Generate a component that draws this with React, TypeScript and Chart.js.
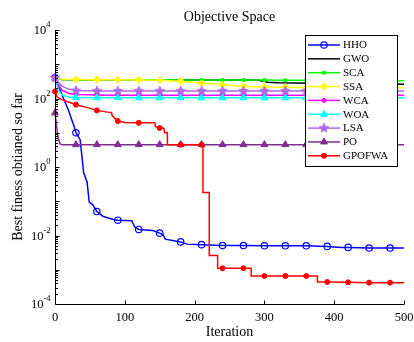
import React, { useEffect, useRef } from 'react';
import { Chart, registerables } from 'chart.js';
import { drawPoint } from 'chart.js/helpers';

Chart.register(...registerables);

const FONT = "'Liberation Serif', 'Times New Roman', serif";

const TITLE = 'Objective Space';
const MARKER_ITERS = [0, 30, 60, 90, 120, 150, 180, 210, 240, 270, 300, 330, 360, 390, 420, 450, 480];
const X_TICKS = [0, 100, 200, 300, 400, 500];
const Y_TICK_EXPONENTS = [-4, -2, 0, 2, 4];

const HHO_X = [0, 7, 19, 24, 28, 30, 36, 39, 41, 46, 49, 54, 60, 69, 85, 90, 110, 114, 120, 140, 150, 155, 158, 180, 189, 210, 240, 270, 300, 330, 360, 390, 410, 420, 450, 480, 500];
const HHO_Y = [400, 180, 47, 24, 14, 10, 6.3, 1.7, 0.69, 0.36, 0.095, 0.08, 0.05, 0.036, 0.029, 0.028, 0.027, 0.018, 0.015, 0.014, 0.0117, 0.0105, 0.0078, 0.0065, 0.0056, 0.0054, 0.0051, 0.0051, 0.005, 0.005, 0.005, 0.0048, 0.0045, 0.0045, 0.0043, 0.0043, 0.0043];

const GWO_X = [0, 10, 30, 100, 200, 290, 305, 320, 400, 500];
const GWO_Y = [390, 360, 355, 352, 348, 345, 300, 290, 275, 262];

const SCA_X = [0, 10, 30, 60, 90, 120, 150, 180, 210, 240, 270, 300, 330, 360, 390, 420, 450, 480, 500];
const SCA_Y = [390, 360, 355, 352, 350, 350, 350, 348, 347, 346, 345, 344, 342, 340, 338, 335, 332, 330, 328];

const SSA_X = [0, 10, 30, 60, 90, 120, 150, 180, 210, 240, 270, 300, 330, 360, 390, 420, 450, 480, 500];
const SSA_Y = [390, 365, 358, 355, 352, 348, 340, 320, 285, 250, 228, 215, 212, 210, 210, 208, 208, 207, 207];

const WCA_X = [0, 5, 10, 20, 30, 60, 90, 120, 150, 180, 210, 240, 270, 300, 330, 360, 390, 420, 450, 480, 500];
const WCA_Y = [400, 250, 175, 140, 130, 126, 125, 125, 125, 125, 125, 125, 125, 125, 125, 125, 125, 125, 125, 125, 125];

const WOA_X = [0, 3, 6, 10, 20, 30, 60, 90, 120, 150, 180, 210, 240, 270, 300, 330, 360, 390, 420, 450, 480, 500];
const WOA_Y = [400, 240, 160, 125, 110, 107, 106, 105, 105, 105, 105, 105, 105, 105, 105, 105, 105, 105, 105, 105, 105, 105];

const LSA_X = [0, 5, 10, 20, 30, 60, 90, 120, 150, 180, 210, 240, 270, 300, 330, 360, 390, 420, 450, 480, 500];
const LSA_Y = [400, 300, 230, 185, 170, 166, 165, 165, 165, 165, 165, 165, 165, 165, 165, 165, 165, 165, 165, 165, 165];

const PO_X = [0, 2, 4, 7, 10, 30, 60, 90, 120, 150, 180, 210, 240, 270, 300, 330, 360, 390, 420, 450, 480, 500];
const PO_Y = [38, 18, 8, 4.8, 4.5, 4.5, 4.5, 4.5, 4.5, 4.5, 4.5, 4.5, 4.5, 4.5, 4.5, 4.5, 4.5, 4.5, 4.5, 4.5, 4.5, 4.5];

const GPOFWA_X = [0, 3, 10, 20, 30, 45, 60, 75, 81, 82, 90, 100, 120, 143, 144, 150, 156, 157, 161, 161, 180, 210, 212, 212, 221, 221, 233, 233, 240, 270, 281, 281, 300, 330, 360, 376, 376, 390, 420, 450, 480, 500];
const GPOFWA_Y = [160, 110, 93, 78, 66, 55, 45, 40, 39, 31, 22, 20, 19.5, 19.5, 15, 13.8, 13.5, 10, 10, 4.5, 4.5, 4.5, 4.5, 0.18, 0.18, 0.0026, 0.0026, 0.0011, 0.0011, 0.0011, 0.0011, 0.00066, 0.00066, 0.00066, 0.00066, 0.00066, 0.00044, 0.00044, 0.00043, 0.00042, 0.00042, 0.00042];

function makeStar(color: string, r: number) {
  const c = document.createElement('canvas');
  const s = Math.ceil(r * 2 + 2);
  c.width = s;
  c.height = s;
  const g = c.getContext('2d')!;
  g.beginPath();
  for (let i = 0; i < 10; i++) {
    const a = -Math.PI / 2 + (i * Math.PI) / 5;
    const rr = i % 2 === 0 ? r : r * 0.45;
    g.lineTo(s / 2 + rr * Math.cos(a), s / 2 + rr * Math.sin(a));
  }
  g.closePath();
  g.fillStyle = color;
  g.fill();
  g.strokeStyle = color;
  g.lineWidth = 0.8;
  g.stroke();
  return c;
}

export default function App() {
  const ref = useRef<HTMLCanvasElement>(null);

  useEffect(() => {
    const LSA_COLOR = '#B066E6';
    const SERIES: any[] = [
      { label: 'HHO', xs: HHO_X, ys: HHO_Y, color: '#0000FF', fill: 'rgba(0,0,0,0)', style: 'circle', radius: 3.2, pbw: 1.2, marker: true },
      { label: 'GWO', xs: GWO_X, ys: GWO_Y, color: '#000000', fill: '#000000', style: 'circle', radius: 0, pbw: 0, marker: false },
      { label: 'SCA', xs: SCA_X, ys: SCA_Y, color: '#00FF00', fill: '#00FF00', style: 'rect', radius: 2, pbw: 1, marker: true },
      { label: 'SSA', xs: SSA_X, ys: SSA_Y, color: '#FFFF00', fill: '#FFFF00', style: 'rectRot', radius: 3.5, pbw: 1, marker: true },
      { label: 'WCA', xs: WCA_X, ys: WCA_Y, color: '#FF00FF', fill: '#FF00FF', style: 'circle', radius: 2, pbw: 1, marker: true },
      { label: 'WOA', xs: WOA_X, ys: WOA_Y, color: '#00FFFF', fill: '#00FFFF', style: 'triangle', radius: 4, pbw: 1, marker: true },
      { label: 'LSA', xs: LSA_X, ys: LSA_Y, color: LSA_COLOR, fill: LSA_COLOR, style: makeStar(LSA_COLOR, 5), radius: 4, pbw: 1, marker: true },
      { label: 'PO', xs: PO_X, ys: PO_Y, color: '#7E2F8E', fill: '#7E2F8E', style: 'triangle', radius: 4, pbw: 1, marker: true },
      { label: 'GPOFWA', xs: GPOFWA_X, ys: GPOFWA_Y, color: '#FF0000', fill: '#FF0000', style: 'circle', radius: 2.5, pbw: 1, marker: true },
    ];

    const axesPlugin = {
      id: 'matlabAxes',
      afterDraw(chart: any) {
        const { ctx, chartArea } = chart;
        const xs = chart.scales.x;
        const ys = chart.scales.y;
        const L = Math.round(chartArea.left) + 0.5;
        const B = Math.round(chartArea.bottom) + 0.5;
        ctx.save();
        // title centred over the axes
        ctx.fillStyle = '#000';
        ctx.font = `14px ${FONT}`;
        ctx.textAlign = 'center';
        ctx.textBaseline = 'middle';
        ctx.fillText(TITLE, (chartArea.left + chartArea.right) / 2, 17);

        ctx.strokeStyle = '#000';
        ctx.lineWidth = 1;
        ctx.beginPath();
        ctx.moveTo(L, chartArea.top);
        ctx.lineTo(L, B);
        ctx.lineTo(chartArea.right, B);
        ctx.stroke();
        // x ticks
        ctx.beginPath();
        X_TICKS.forEach((v) => {
          const px = Math.round(xs.getPixelForValue(v)) + 0.5;
          ctx.moveTo(px, B);
          ctx.lineTo(px, B - 4);
        });
        // y ticks major and minor
        for (let e = -4; e <= 4; e++) {
          const py = Math.round(ys.getPixelForValue(Math.pow(10, e))) + 0.5;
          ctx.moveTo(L, py);
          ctx.lineTo(L + 4, py);
          if (e < 4) {
            for (let m = 2; m <= 9; m++) {
              const pm = Math.round(ys.getPixelForValue(m * Math.pow(10, e))) + 0.5;
              ctx.moveTo(L, pm);
              ctx.lineTo(L + 2.5, pm);
            }
          }
        }
        ctx.stroke();
        // x tick labels
        ctx.fillStyle = '#000';
        ctx.font = `12.5px ${FONT}`;
        ctx.textAlign = 'center';
        ctx.textBaseline = 'middle';
        X_TICKS.forEach((v) => {
          ctx.fillText(String(v), xs.getPixelForValue(v), B + 13.5);
        });
        // y tick labels with superscript
        Y_TICK_EXPONENTS.forEach((e) => {
          const py = ys.getPixelForValue(Math.pow(10, e));
          const right = L - 5;
          ctx.font = `8.5px ${FONT}`;
          ctx.textAlign = 'right';
          const expText = String(e);
          const ew = ctx.measureText(expText).width;
          ctx.fillText(expText, right, py - 5);
          ctx.font = `12.5px ${FONT}`;
          ctx.fillText('10', right - ew, py + 1);
        });
        ctx.restore();
      },
    };

    const legendPlugin = {
      id: 'boxLegend',
      afterDraw(chart: any) {
        const { ctx, chartArea } = chart;
        const x0 = Math.round(chartArea.right) - 99;
        const y0 = Math.round(chartArea.top) + 5;
        const w = 92;
        const h = 131;
        ctx.save();
        ctx.fillStyle = '#fff';
        ctx.fillRect(x0, y0, w, h);
        ctx.strokeStyle = '#000';
        ctx.lineWidth = 1;
        ctx.strokeRect(x0 + 0.5, y0 + 0.5, w, h);
        SERIES.forEach((s, i) => {
          const y = y0 + 10 + i * 13.85;
          ctx.strokeStyle = s.color;
          ctx.lineWidth = 1.5;
          ctx.beginPath();
          ctx.moveTo(x0 + 3, y);
          ctx.lineTo(x0 + 35, y);
          ctx.stroke();
          if (s.marker) {
            ctx.fillStyle = s.fill;
            ctx.strokeStyle = s.color;
            ctx.lineWidth = s.pbw;
            drawPoint(ctx, { pointStyle: s.style, radius: s.radius, rotation: 0, borderWidth: s.pbw } as any, x0 + 19, y);
          }
          ctx.fillStyle = '#000';
          ctx.font = `11px ${FONT}`;
          ctx.textAlign = 'left';
          ctx.textBaseline = 'middle';
          ctx.fillText(s.label, x0 + 38, y + 0.5);
        });
        ctx.restore();
      },
    };

    const chart = new Chart(ref.current!, {
      type: 'line',
      data: {
        datasets: SERIES.map((s, i) => ({
          label: s.label,
          data: s.xs.map((x: number, j: number) => ({ x, y: s.ys[j] })),
          borderColor: s.color,
          backgroundColor: s.fill,
          borderWidth: 1.5,
          pointStyle: s.style,
          pointRadius: (c: any) => (s.marker && c.raw && MARKER_ITERS.includes(c.raw.x) ? s.radius : 0),
          pointBorderColor: s.color,
          pointBackgroundColor: s.fill,
          pointBorderWidth: s.pbw,
          pointHoverRadius: 0,
          tension: 0,
          clip: false,
          order: SERIES.length - i,
        })),
      },
      options: {
        animation: false,
        responsive: true,
        maintainAspectRatio: false,
        layout: { padding: { left: 0, right: 10, top: 30, bottom: 0 } },
        plugins: {
          legend: { display: false },
          tooltip: { enabled: false },
          title: { display: false },
        },
        scales: {
          x: {
            type: 'linear',
            min: 0,
            max: 500,
            ticks: { display: false },
            grid: { display: false, drawTicks: false },
            border: { display: false },
            title: {
              display: true,
              text: 'Iteration',
              color: '#000',
              font: { family: FONT, size: 14, weight: 'normal' },
              padding: { top: 0, bottom: 1 },
            },
            afterFit: (s: any) => {
              s.height = 38;
            },
          },
          y: {
            type: 'logarithmic',
            min: 1e-4,
            max: 1e4,
            ticks: { display: false },
            grid: { display: false, drawTicks: false },
            border: { display: false },
            title: {
              display: true,
              text: 'Best finess obtianed so far',
              color: '#000',
              font: { family: FONT, size: 14, weight: 'normal' },
              padding: { top: 10, bottom: 0 },
            },
            afterFit: (s: any) => {
              s.width = 55;
            },
          },
        },
      } as any,
      plugins: [axesPlugin, legendPlugin],
    });
    return () => chart.destroy();
  }, []);

  return (
    <div style={{ position: 'fixed', left: 0, top: 0, width: 414, height: 342, background: '#fff' }}>
      <canvas ref={ref} />
    </div>
  );
}
